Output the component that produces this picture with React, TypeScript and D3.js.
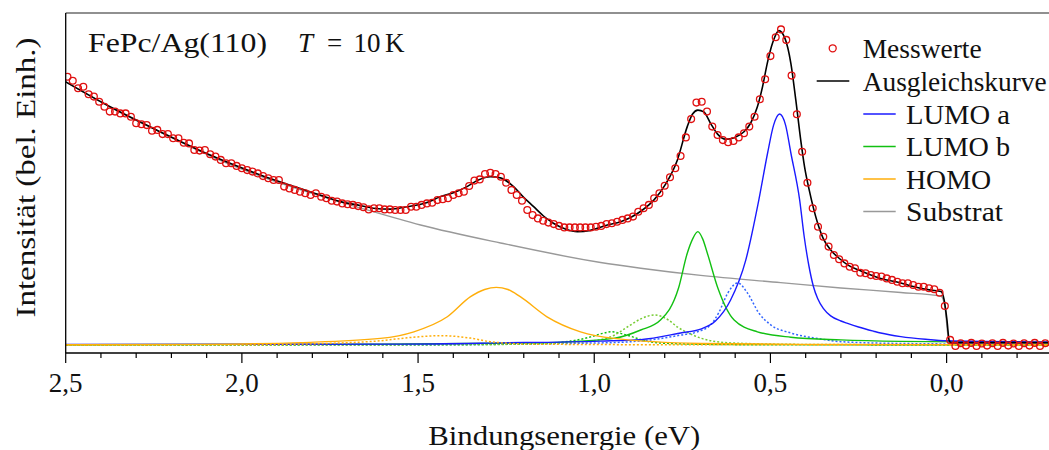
import React from "react";
import * as d3 from "d3";

const W = 1049;
const H = 450;
const PLOT = { left: 65.7, right: 1049.5, top: 13, bottom: 353 };

// Binding energy axis (eV), drawn right-to-left
const E_HIGH = 2.5;
const E_LOW = -0.292;
// Intensity (arb. units)
const I_LOW = -2.667;
const I_HIGH = 110.667;

const TICK_MAJOR = [2.5, 2.0, 1.5, 1.0, 0.5, 0.0];
const TICK_LABELS = ["2,5", "2,0", "1,5", "1,0", "0,5", "0,0"];

// Measured spectrum: first energy, energy step, intensities
const MESS_E0 = 2.495;
const MESS_DE = 0.015;
const messwerte = [
  89.4, 88.1, 85.6, 86.1, 83.6, 82.8, 81.1, 79.4, 77.8, 77.8,
  77.2, 77.2, 76.1, 73.9, 73.6, 73.3, 71.4, 71.7, 70.3, 70.3,
  68.9, 68.9, 67.4, 67.2, 65.0, 64.8, 65.0, 63.6, 62.8, 61.7,
  60.6, 60.6, 59.7, 58.9, 58.3, 57.8, 57.2, 56.3, 55.6, 55.0,
  55.0, 52.8, 52.2, 51.7, 51.1, 50.6, 50.0, 50.6, 49.4, 48.9,
  48.1, 47.8, 47.2, 46.9, 46.7, 46.3, 45.9, 45.2, 45.6, 45.6,
  45.2, 45.2, 45.0, 45.0, 45.0, 46.1, 46.1, 46.7, 47.2, 47.4,
  48.3, 48.6, 48.9, 50.0, 50.6, 51.1, 53.0, 54.8, 55.2, 57.0,
  57.4, 57.0, 56.1, 54.1, 51.7, 50.0, 48.1, 45.0, 43.3, 42.2,
  41.4, 40.8, 40.3, 39.7, 39.2, 39.2, 39.2, 39.2, 39.2, 39.2,
  39.4, 39.7, 40.3, 40.6, 41.1, 41.7, 42.2, 42.8, 44.4, 45.6,
  46.7, 48.9, 50.6, 53.1, 55.9, 58.9, 63.0, 69.2, 75.3, 80.8,
  81.1, 77.8, 72.8, 70.0, 68.3, 67.6, 68.0, 69.2, 70.6, 72.8,
  76.1, 81.9, 88.6, 96.3, 102.6, 105.2, 101.7, 89.8, 76.9, 64.4,
  54.1, 45.6, 39.4, 36.1, 32.8, 30.0, 28.6, 27.2, 26.1, 25.6,
  24.1, 23.9, 23.3, 23.0, 22.8, 22.2, 21.7, 21.1, 20.6, 20.6,
  20.0, 19.4, 19.4, 18.9, 18.6, 17.4, 13.0, 1.7, -0.3, 0.6,
  -0.2, 0.7, -0.3, 0.5, -0.2, 0.6, -0.3, 0.7, -0.2, 0.5,
  -0.3, 0.6, -0.2, 0.7, -0.3, 0.6,
];

// Fit result [E, I]
const ausgleichskurve: [number, number][] = [
  [2.5, 87.7], [2.374, 79.4], [2.232, 71.1], [2.09, 63.3], [1.948, 56.7],
  [1.806, 51.1], [1.721, 47.8], [1.664, 46.5], [1.627, 45.6], [1.579, 45.3],
  [1.531, 46.1], [1.479, 47.3], [1.437, 49.4], [1.394, 51.0], [1.361, 52.8],
  [1.329, 55.0], [1.295, 56.1], [1.266, 55.7], [1.229, 52.8], [1.201, 49.3],
  [1.172, 46.1], [1.144, 43.0], [1.116, 40.6], [1.082, 38.7], [1.048, 37.8],
  [1.011, 38.2], [0.963, 40.0], [0.925, 41.1], [0.897, 42.5], [0.863, 45.0],
  [0.831, 48.3], [0.797, 53.7], [0.764, 61.7], [0.736, 72.8], [0.721, 77.0],
  [0.706, 78.3], [0.689, 77.7], [0.67, 73.9], [0.65, 70.3], [0.627, 68.6],
  [0.601, 69.2], [0.575, 71.1], [0.556, 74.0], [0.537, 79.4], [0.522, 86.3],
  [0.509, 93.9], [0.493, 101.0], [0.476, 104.8], [0.459, 102.3], [0.442, 93.9],
  [0.428, 81.7], [0.414, 68.3], [0.403, 59.3], [0.39, 51.7], [0.366, 40.6],
  [0.351, 35.7], [0.329, 31.7], [0.306, 29.0], [0.281, 26.7], [0.243, 24.7],
  [0.187, 22.2], [0.13, 20.7], [0.092, 19.4], [0.045, 18.3], [0.016, 17.8],
  [0.007, 15.0], [-0.001, 8.3], [-0.007, 1.7], [-0.012, 0.8], [-0.292, 0.8],
];

const substrat: [number, number][] = [
  [2.5, 87.7], [2.374, 79.3], [2.232, 71.0], [2.09, 63.0], [1.948, 56.3],
  [1.806, 50.7], [1.664, 45.7], [1.493, 40.0], [1.266, 34.0], [0.982, 27.5],
  [0.868, 25.6], [0.698, 23.2], [0.471, 20.8], [0.3, 19.0], [0.13, 17.5],
  [0.016, 16.3], [0.004, 12.0], [-0.003, 4.0], [-0.008, 0.6], [-0.292, 0.6],
];

const lumoA: [number, number][] = [
  [2.5, 0.2], [1.55, 0.3], [1.266, 0.7], [0.982, 1.3], [0.868, 1.8],
  [0.755, 4.0], [0.698, 5.3], [0.656, 8.0], [0.613, 15.0], [0.57, 28.3],
  [0.533, 48.3], [0.508, 64.0], [0.491, 73.3], [0.474, 77.0], [0.457, 73.3],
  [0.442, 64.0], [0.417, 48.3], [0.404, 36.0], [0.391, 26.5], [0.378, 19.5],
  [0.366, 15.5], [0.35, 12.2], [0.329, 9.7], [0.3, 8.0], [0.281, 7.2],
  [0.25, 6.0], [0.207, 4.6], [0.187, 4.0], [0.13, 2.8], [0.06, 1.9],
  [-0.001, 1.4], [-0.292, 1.0],
];

const lumoASat: [number, number][] = [
  [2.5, 0.1], [1.55, 0.1], [0.982, 0.7], [0.84, 1.7], [0.755, 3.3],
  [0.707, 4.4], [0.67, 6.7], [0.647, 10.7], [0.621, 17.3], [0.593, 20.7],
  [0.565, 17.3], [0.533, 10.7], [0.499, 6.7], [0.442, 4.0], [0.357, 2.0],
  [0.3, 1.1], [0.13, 0.5], [-0.292, 0.2],
];

const lumoB: [number, number][] = [
  [2.5, 0.1], [1.607, 0.3], [1.266, 0.6], [1.133, 0.8], [0.945, 2.2],
  [0.868, 5.0], [0.812, 8.3], [0.761, 18.9], [0.736, 30.6], [0.721, 35.3],
  [0.706, 37.8], [0.692, 35.3], [0.679, 30.6], [0.649, 18.9], [0.603, 8.3],
  [0.537, 4.4], [0.442, 2.6], [0.3, 1.7], [0.13, 1.2], [-0.292, 0.8],
];

const lumoBSat1: [number, number][] = [
  [2.5, 0.0], [1.266, 0.2], [1.039, 1.0], [0.954, 2.7], [0.906, 6.0],
  [0.868, 8.7], [0.829, 10.0], [0.789, 8.3], [0.764, 6.0], [0.727, 3.7],
  [0.698, 2.3], [0.613, 0.7], [0.414, 0.2], [-0.292, 0.0],
];

const lumoBSat2: [number, number][] = [
  [2.5, 0.0], [1.408, 0.1], [1.152, 0.5], [1.067, 1.3], [1.01, 2.7],
  [0.982, 3.7], [0.951, 4.4], [0.92, 3.7], [0.891, 2.7], [0.854, 1.3],
  [0.783, 0.5], [0.556, 0.1], [-0.292, 0.0],
];

const homo: [number, number][] = [
  [2.5, 0.1], [2.119, 0.2], [1.834, 0.8], [1.607, 2.2], [1.512, 4.4],
  [1.417, 9.4], [1.351, 16.1], [1.311, 18.5], [1.278, 19.2], [1.245, 18.5],
  [1.21, 16.1], [1.134, 9.4], [1.039, 4.4], [0.944, 2.2], [0.698, 0.5],
  [0.414, 0.2], [-0.292, 0.1],
];

const homoSat: [number, number][] = [
  [2.5, 0.0], [1.976, 0.1], [1.74, 0.6], [1.607, 1.4], [1.522, 2.5],
  [1.437, 3.1], [1.351, 2.3], [1.295, 1.1], [1.181, 0.3], [0.84, 0.1],
  [-0.292, 0.0],
];

const C_RED = "#e01010";
const C_BLUE = "#1a1aff";
const C_BLUE_DOT = "#3366ff";
const C_GREEN = "#12c012";
const C_LIME = "#77cc33";
const C_ORANGE = "#ffae0a";
const C_GRAY = "#999999";

const FONT = '"Liberation Serif", "DejaVu Serif", serif';
const FS = 27;
const textStyle = { fontFamily: FONT, fontSize: FS, fill: "#111" };

const xScale = d3.scaleLinear().domain([E_HIGH, E_LOW]).range([PLOT.left, PLOT.right]);
const yScale = d3.scaleLinear().domain([I_LOW, I_HIGH]).range([PLOT.bottom, PLOT.top]);

const line = d3
  .line<[number, number]>()
  .x((d) => xScale(d[0]))
  .y((d) => yScale(d[1]))
  .curve(d3.curveMonotoneX);

const legendRows = [
  { label: "LUMO a", color: C_BLUE, y: 114, len: 104 },
  { label: "LUMO b", color: C_GREEN, y: 146.5, len: 104 },
  { label: "HOMO", color: C_ORANGE, y: 179, len: 85 },
  { label: "Substrat", color: C_GRAY, y: 211.5, len: 97 },
];

export default function App() {
  const ticks = xScale.ticks(28).filter((t) => t <= E_HIGH + 1e-9 && t >= E_LOW);
  const isMajor = (t: number) => Math.abs(t * 2 - Math.round(t * 2)) < 1e-6;

  const points = messwerte.map((v, i) => [MESS_E0 - i * MESS_DE, v] as [number, number]);

  const dotted = { strokeDasharray: "2,2" };

  return (
    <svg
      width={W}
      height={H}
      viewBox={`0 0 ${W} ${H}`}
      style={{ position: "absolute", left: 0, top: 0, background: "#fff" }}
    >
      <defs>
        <clipPath id="plot-clip">
          <rect x={PLOT.left} y={PLOT.top} width={PLOT.right - PLOT.left} height={PLOT.bottom - PLOT.top} />
        </clipPath>
      </defs>

      <g clipPath="url(#plot-clip)" fill="none">
        <path d={line(substrat) ?? ""} stroke={C_GRAY} strokeWidth={1.4} />
        <path d={line(lumoASat) ?? ""} stroke={C_BLUE_DOT} strokeWidth={1.5} {...dotted} />
        <path d={line(lumoBSat2) ?? ""} stroke={C_GREEN} strokeWidth={1.5} {...dotted} />
        <path d={line(lumoBSat1) ?? ""} stroke={C_LIME} strokeWidth={1.5} {...dotted} />
        <path d={line(lumoB) ?? ""} stroke={C_GREEN} strokeWidth={1.4} />
        <path d={line(lumoA) ?? ""} stroke={C_BLUE} strokeWidth={1.4} />
        <path d={line(homoSat) ?? ""} stroke={C_ORANGE} strokeWidth={1.5} {...dotted} />
        <path d={line(homo) ?? ""} stroke={C_ORANGE} strokeWidth={1.4} />
        <path d={line(ausgleichskurve) ?? ""} stroke="#000" strokeWidth={1.6} />
        {points.map((p, i) => (
          <circle key={i} cx={xScale(p[0])} cy={yScale(p[1])} r={3.4} stroke={C_RED} strokeWidth={1.3} />
        ))}
      </g>

      {/* frame and axes */}
      <line x1={PLOT.left} x2={PLOT.right} y1={PLOT.top} y2={PLOT.top} stroke="#222" strokeWidth={1.2} />
      <line x1={PLOT.left} x2={PLOT.left} y1={PLOT.top} y2={PLOT.bottom} stroke="#000" strokeWidth={1.3} />
      <line x1={PLOT.left} x2={PLOT.right} y1={PLOT.bottom} y2={PLOT.bottom} stroke="#000" strokeWidth={1.3} />

      {ticks.map((t) => (
        <line
          key={t}
          x1={xScale(t)}
          x2={xScale(t)}
          y1={PLOT.bottom}
          y2={PLOT.bottom + (isMajor(t) ? 10 : 5)}
          stroke="#000"
          strokeWidth={1.2}
        />
      ))}
      {TICK_MAJOR.map((t, i) => (
        <text key={t} x={xScale(t)} y={391.5} textAnchor="middle" style={textStyle}>
          {TICK_LABELS[i]}
        </text>
      ))}

      <text x={428.3} y={445} style={textStyle} textLength={272} lengthAdjust="spacingAndGlyphs">
        Bindungsenergie (eV)
      </text>
      <text
        transform="translate(35,177.5) rotate(-90)"
        textAnchor="middle"
        style={textStyle}
        textLength={280}
        lengthAdjust="spacingAndGlyphs"
      >
        Intensität (bel. Einh.)
      </text>

      {/* sample label */}
      <text x={88} y={52} style={textStyle} textLength={179} lengthAdjust="spacingAndGlyphs">
        FePc/Ag(110)
      </text>
      <text y={52} style={textStyle}>
        <tspan x={298} fontStyle="italic">T</tspan>
        <tspan x={327}>=</tspan>
        <tspan x={353.5}>10</tspan>
        <tspan x={385}>K</tspan>
      </text>

      {/* legend */}
      <circle cx={832.7} cy={48.3} r={3.5} fill="none" stroke={C_RED} strokeWidth={1.3} />
      <text x={862.7} y={57.8} style={textStyle} textLength={119} lengthAdjust="spacingAndGlyphs">
        Messwerte
      </text>
      <line x1={816.7} x2={849.3} y1={81} y2={81} stroke="#000" strokeWidth={1.5} />
      <text x={862.7} y={90.5} style={textStyle} textLength={184} lengthAdjust="spacingAndGlyphs">
        Ausgleichskurve
      </text>
      {legendRows.map((r) => (
        <g key={r.label}>
          <line x1={863.3} x2={895.7} y1={r.y} y2={r.y} stroke={r.color} strokeWidth={1.5} />
          <text x={906} y={r.y + 9.5} style={textStyle} textLength={r.len} lengthAdjust="spacingAndGlyphs">
            {r.label}
          </text>
        </g>
      ))}
    </svg>
  );
}
